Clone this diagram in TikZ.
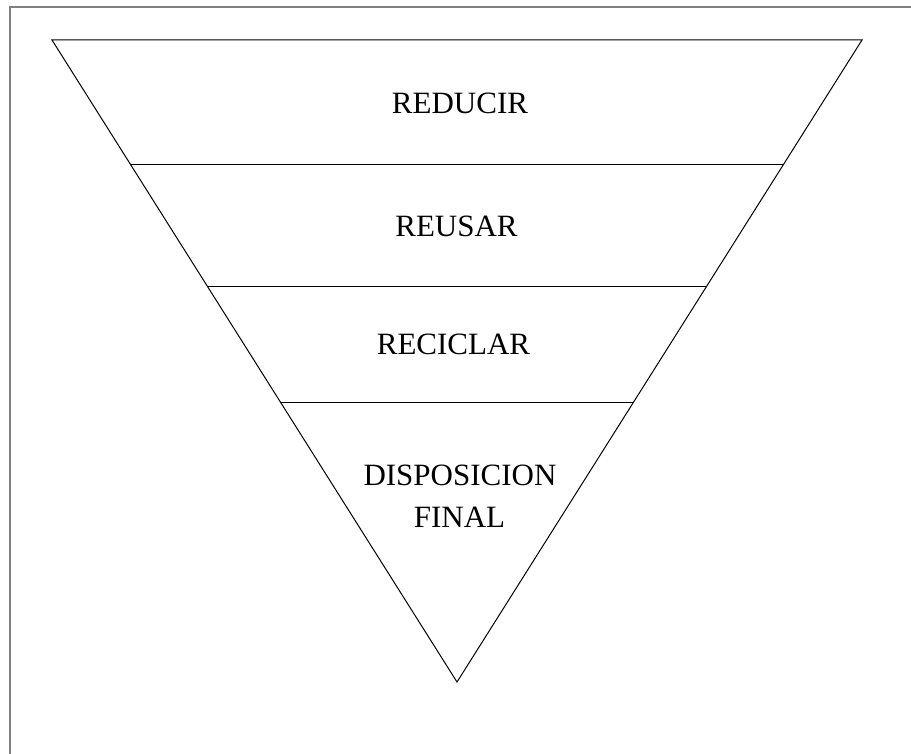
\documentclass[tikz,border=0pt]{standalone}
\usepackage{fontspec}
\setmainfont{Liberation Serif}
\usetikzlibrary{calc}

\begin{document}
\begin{tikzpicture}[x=1pt, y=-1pt,
 level/.style={anchor=base, inner sep=0pt, font=\fontsize{31}{36}\selectfont},
 edge/.style={draw=black, line width=1pt},
 frame/.style={draw=gray, line width=1.6pt}]
            
            \useasboundingbox (0,0) rectangle (911,754);
            \draw[frame] (10,754) -- (10,7) -- (911,7);
            %triangle corners
            \coordinate (tl) at (52,40);
            \coordinate (tr) at (862,40);
            \coordinate (apex) at (457,682);
            \draw[edge] (tl) -- (tr) -- (apex) -- cycle;
            \foreach \y/\n in {165/a, 287/b, 403/c}{
                \coordinate (l\n) at ($(tl)!{(\y-40)/642}!(apex)$);
                \coordinate (r\n) at ($(tr)!{(\y-40)/642}!(apex)$);
                \draw[edge] (l\n) -- (r\n);
            }
            \node[level] (reducir) at (460,114) {REDUCIR};
            \node[level] (reusar) at (456.5,237) {REUSAR};
            \node[level] (reciclar) at (453.5,355) {RECICLAR};
            \node[level] (disp) at (460,485) {DISPOSICION};
            \node[level] (final) at (459.5,527) {FINAL};
\end{tikzpicture}
\end{document}
